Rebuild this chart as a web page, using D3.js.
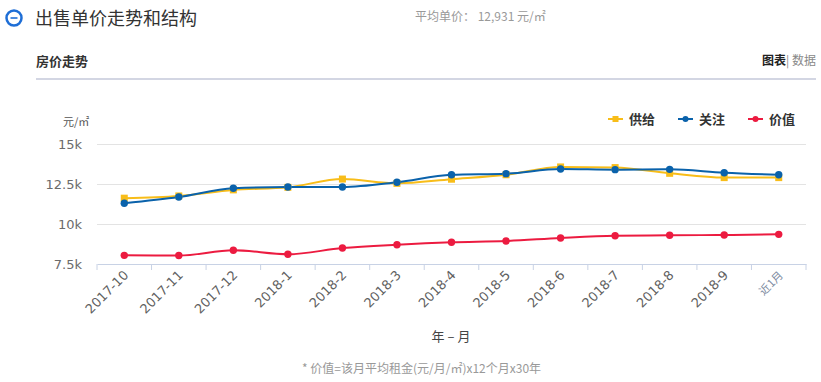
<!DOCTYPE html>
<html><head><meta charset="utf-8">
<script src="https://cdn.jsdelivr.net/npm/d3@7"></script>
<style>body{margin:0;background:#fff;}svg{display:block;font-family:"Microsoft YaHei","Noto Sans CJK SC",sans-serif;}</style>
</head><body>
<svg id="c" width="821" height="382"></svg>
<script>
const categories = ["2017-10","2017-11","2017-12","2018-1","2018-2","2018-3","2018-4","2018-5","2018-6","2018-7","2018-8","2018-9","近1月"];
const supply = [11600,11740,12120,12280,12800,12530,12790,13070,13560,13520,13160,12890,12890];
const attention = [11280,11670,12220,12300,12300,12600,13070,13140,13430,13390,13410,13200,13070];
const value = [8010,8000,8330,8080,8470,8680,8830,8910,9100,9240,9270,9290,9330];
const yTicks = [7500,10000,12500,15000];
const yTickLabels = ["7.5k","10k","12.5k","15k"];
const seriesNames = ["供给","关注","价值"];

const svg = d3.select("#c");
const colors = ["#f8bd19","#0a62ab","#ec1b40"];

// header
svg.append("circle").attr("cx",14).attr("cy",18).attr("r",7.5).attr("fill","none").attr("stroke","#1e6ed6").attr("stroke-width",2.5);
svg.append("line").attr("x1",10.5).attr("x2",17.5).attr("y1",18).attr("y2",18).attr("stroke","#1e6ed6").attr("stroke-width",1.6);
svg.append("text").attr("x",35).attr("y",25).attr("font-size",18).attr("fill","#333").text("出售单价走势和结构");
svg.append("text").attr("x",415).attr("y",21).attr("font-size",12).attr("fill","#999").text("平均单价： 12,931 元/㎡");
svg.append("text").attr("x",36).attr("y",66).attr("font-size",13).attr("font-weight","bold").attr("fill","#333").text("房价走势");
const tr = svg.append("text").attr("x",816).attr("y",65).attr("font-size",12).attr("text-anchor","end");
tr.append("tspan").attr("font-weight","bold").attr("fill","#222").text("图表");
tr.append("tspan").attr("fill","#888").text("| 数据");
svg.append("rect").attr("x",36).attr("y",78).attr("width",780).attr("height",2).attr("fill","#d3d6e3");

const x = d3.scaleBand().domain(categories).range([97,806]);
const y = d3.scaleLinear().domain([7500,15000]).range([263.5,144]);

// grid
svg.append("g").selectAll("line").data(yTicks.slice(1)).join("line")
  .attr("x1",97).attr("x2",806).attr("y1",d=>Math.round(y(d))+0.5).attr("y2",d=>Math.round(y(d))+0.5)
  .attr("stroke","#e3e3e3");

// y labels
svg.append("g").selectAll("text").data(yTicks).join("text")
  .attr("x",82).attr("y",d=>y(d)+5).attr("text-anchor","end").attr("fill","#6b6b6b")
  .attr("font-family","Verdana,'DejaVu Sans',sans-serif").attr("font-size",13)
  .text((d,i)=>yTickLabels[i]);
svg.append("text").attr("x",63).attr("y",126).attr("font-size",11).attr("fill","#555").text("元/㎡");

// x axis
const gx = svg.append("g").attr("transform","translate(0,264)")
  .call(d3.axisBottom(x).tickSize(6).tickSizeOuter(0).tickFormat(""));
gx.select(".domain").attr("stroke","#c8d2e5");
gx.selectAll(".tick line").attr("stroke","#c8d2e5").attr("transform",d=>`translate(${-x.bandwidth()/2},0)`);
gx.append("line").attr("x1",806).attr("x2",806).attr("y1",0).attr("y2",6).attr("stroke","#c8d2e5");
svg.append("g").selectAll("text").data(categories).join("text")
  .attr("transform",d=>`translate(${x(d)+x.bandwidth()/2+5},${276}) rotate(-45)`)
  .attr("text-anchor","end")
  .attr("fill",(d,i)=>i===categories.length-1?"#7d8aa0":"#5f5f5f")
  .attr("font-family",(d,i)=>i===categories.length-1?"'Noto Sans CJK SC',sans-serif":"Verdana,'DejaVu Sans',sans-serif")
  .attr("font-size",(d,i)=>i===categories.length-1?11:13)
  .text(d=>d);
svg.append("text").attr("x",451).attr("y",341).attr("text-anchor","middle").attr("font-size",13).attr("fill","#444").attr("xml:space","preserve").text("年 – 月");
svg.append("text").attr("x",302).attr("y",373).attr("font-size",12).attr("fill","#999").text("* 价值=该月平均租金(元/月/㎡)x12个月x30年");

// lines
const cx = d=>x(d)+x.bandwidth()/2;
const allSeries = [supply, attention, value];
const line = d3.line().x((d,i)=>cx(categories[i])).y(d=>y(d)).curve(d3.curveMonotoneX);
allSeries.forEach((s,k)=>{
  svg.append("path").attr("d",line(s)).attr("fill","none").attr("stroke",colors[k]).attr("stroke-width",2);
});
allSeries.forEach((s,k)=>{
  const g = svg.append("g");
  if(k===0){
    g.selectAll("rect").data(s).join("rect")
      .attr("x",(d,i)=>cx(categories[i])-3.5).attr("y",d=>y(d)-3.5).attr("width",7).attr("height",7).attr("fill",colors[k]);
  } else {
    g.selectAll("circle").data(s).join("circle")
      .attr("cx",(d,i)=>cx(categories[i])).attr("cy",d=>y(d)).attr("r",3.7).attr("fill",colors[k]);
  }
});

// legend
const lx = [608,678,748];
seriesNames.forEach((n,k)=>{
  const g = svg.append("g");
  g.append("line").attr("x1",lx[k]).attr("x2",lx[k]+15).attr("y1",119).attr("y2",119).attr("stroke",colors[k]).attr("stroke-width",2);
  if(k===0) g.append("rect").attr("x",lx[k]+4.5).attr("y",116).attr("width",6).attr("height",6).attr("fill",colors[k]);
  else g.append("circle").attr("cx",lx[k]+7.5).attr("cy",119).attr("r",3).attr("fill",colors[k]);
  g.append("text").attr("x",lx[k]+21).attr("y",124).attr("font-size",13).attr("font-weight","bold").attr("fill","#333").text(n);
});
</script>
</body></html>
